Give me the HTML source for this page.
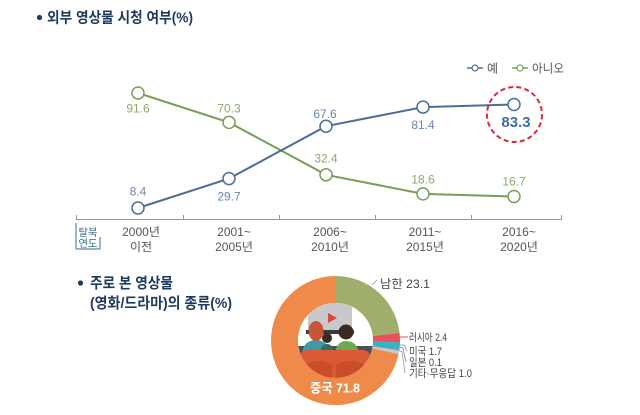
<!DOCTYPE html>
<html><head><meta charset="utf-8">
<style>
html,body{margin:0;padding:0;background:#fff;}
svg{display:block;}
text{font-family:"Liberation Sans","Noto Sans CJK KR",sans-serif;}
</style></head>
<body>
<svg width="640" height="415" viewBox="0 0 640 415" xmlns="http://www.w3.org/2000/svg">
<rect width="640" height="415" fill="#fff"/>
<!-- Title -->
<circle cx="39.5" cy="17.5" r="2.6" fill="#1e3a5f"/>
<text x="47" y="22.5" font-size="15" font-weight="bold" fill="#1e3a5f" textLength="146" lengthAdjust="spacingAndGlyphs">외부 영상물 시청 여부(%)</text>

<!-- Legend -->
<line x1="467" y1="68" x2="483" y2="68" stroke="#4e6d94" stroke-width="1.5"/>
<circle cx="475" cy="68" r="3" fill="#fff" stroke="#4e6d94" stroke-width="1.2"/>
<text x="487" y="72.5" font-size="12" fill="#555">예</text>
<line x1="512" y1="68" x2="528" y2="68" stroke="#7a9e58" stroke-width="1.5"/>
<circle cx="520" cy="68" r="3" fill="#fff" stroke="#7a9e58" stroke-width="1.2"/>
<text x="532" y="72.5" font-size="12" fill="#555" textLength="32" lengthAdjust="spacingAndGlyphs">아니오</text>

<!-- Axis -->
<line x1="76" y1="219.5" x2="562" y2="219.5" stroke="#9a9a9a" stroke-width="1"/>
<g stroke="#9a9a9a" stroke-width="1">
<line x1="76.5" y1="215" x2="76.5" y2="220"/>
<line x1="183.5" y1="215" x2="183.5" y2="220"/>
<line x1="279.5" y1="215" x2="279.5" y2="220"/>
<line x1="375.5" y1="215" x2="375.5" y2="220"/>
<line x1="471.5" y1="215" x2="471.5" y2="220"/>
<line x1="561.5" y1="215" x2="561.5" y2="220"/>
</g>

<!-- Lines -->
<polyline points="138,93 229,122.4 326,174.8 423,193.9 514,196.5" fill="none" stroke="#7a9e58" stroke-width="2"/>
<polyline points="138,208 229,178.6 326,126.2 423,107.1 514,104.5" fill="none" stroke="#4e6d94" stroke-width="2"/>
<g fill="#fff" stroke="#7a9e58" stroke-width="1.5">
<circle cx="138" cy="93" r="6"/><circle cx="229" cy="122.4" r="6"/><circle cx="326" cy="174.8" r="6"/><circle cx="423" cy="193.9" r="6"/><circle cx="514" cy="196.5" r="6"/>
</g>
<g fill="#fff" stroke="#4e6d94" stroke-width="1.5">
<circle cx="138" cy="208" r="6"/><circle cx="229" cy="178.6" r="6"/><circle cx="326" cy="126.2" r="6"/><circle cx="423" cy="107.1" r="6"/><circle cx="514" cy="104.5" r="6"/>
</g>

<!-- Data labels -->
<g font-size="12" fill="#8aab6c" text-anchor="middle">
<text x="138" y="112.5">91.6</text>
<text x="229" y="112.5">70.3</text>
<text x="326" y="162.5">32.4</text>
<text x="423" y="183.5">18.6</text>
<text x="514" y="185.5">16.7</text>
</g>
<g font-size="12" fill="#6a86ad" text-anchor="middle">
<text x="138" y="195.5">8.4</text>
<text x="229" y="200.5">29.7</text>
<text x="325" y="118">67.6</text>
<text x="423" y="129">81.4</text>
</g>
<text x="516" y="127" font-size="15" font-weight="bold" fill="#3f6da5" text-anchor="middle">83.3</text>
<circle cx="514.5" cy="114.5" r="27.5" fill="none" stroke="#d42b3d" stroke-width="2" stroke-dasharray="5 3.2"/>

<!-- Box -->
<g stroke="#3b6e8c" stroke-width="1" fill="none">
<line x1="76" y1="223" x2="76" y2="249"/>
<line x1="76" y1="249" x2="100" y2="249"/>
<line x1="100" y1="237" x2="100" y2="249"/>
</g>
<g font-size="10" fill="#2f6a8a" text-anchor="middle">
<text x="88" y="236" textLength="19" lengthAdjust="spacingAndGlyphs">탈북</text>
<text x="88" y="247" textLength="19" lengthAdjust="spacingAndGlyphs">연도</text>
</g>

<!-- Category labels -->
<g font-size="12" fill="#555" text-anchor="middle">
<text x="141" y="236">2000년</text><text x="141" y="251">이전</text>
<text x="234" y="236">2001~</text><text x="234" y="251">2005년</text>
<text x="330" y="236">2006~</text><text x="330" y="251">2010년</text>
<text x="425" y="236">2011~</text><text x="425" y="251">2015년</text>
<text x="519" y="236">2016~</text><text x="519" y="251">2020년</text>
</g>

<!-- Second title -->
<circle cx="80.5" cy="283" r="2.6" fill="#1e3a5f"/>
<text x="90" y="288" font-size="15" font-weight="bold" fill="#1e3a5f" textLength="83" lengthAdjust="spacingAndGlyphs">주로 본 영상물</text>
<text x="90" y="308" font-size="15" font-weight="bold" fill="#1e3a5f" textLength="142" lengthAdjust="spacingAndGlyphs">(영화/드라마)의 종류(%)</text>

<!-- Donut -->
<g transform="rotate(-90 335.5 340.5)" fill="none" stroke-width="27">
<circle cx="335.5" cy="340.5" r="51" pathLength="100" stroke="#f08a4b" stroke-dasharray="71.7 28.3" stroke-dashoffset="-28.3"/>
<circle cx="335.5" cy="340.5" r="51" pathLength="100" stroke="#9fae6a" stroke-dasharray="23.1 76.9" stroke-dashoffset="0"/>
<circle cx="335.5" cy="340.5" r="51" pathLength="100" stroke="#e8505b" stroke-dasharray="2.4 97.6" stroke-dashoffset="-23.1"/>
<circle cx="335.5" cy="340.5" r="51" pathLength="100" stroke="#33b3c4" stroke-dasharray="1.7 98.3" stroke-dashoffset="-25.5"/>
<circle cx="335.5" cy="340.5" r="51" pathLength="100" stroke="#6b7a8c" stroke-dasharray="0.3 99.7" stroke-dashoffset="-27.2"/>
<circle cx="335.5" cy="340.5" r="51" pathLength="100" stroke="#c2c8d0" stroke-dasharray="1.0 99" stroke-dashoffset="-27.4"/>
</g>
<!-- Illustration -->
<defs><clipPath id="hole"><circle cx="335.5" cy="340.5" r="37.5"/></clipPath></defs>
<g clip-path="url(#hole)">
<rect x="295" y="300" width="82" height="82" fill="#fff"/>
<rect x="308" y="303" width="44" height="28" fill="#c9c9cd"/>
<rect x="306" y="330" width="48" height="4" fill="#3a3a3a"/>
<polygon points="328,313 328,323 337,318" fill="#e0453a"/>
<rect x="295" y="346" width="82" height="14" fill="#4a4f55"/>
<path d="M302 353 Q304 340 316 340 Q328 340 329 353 Z" fill="#3e9aa8"/>
<ellipse cx="316" cy="331" rx="7.5" ry="10" fill="#c8553a"/>
<path d="M335 353 Q337 341 346 341 Q357 341 359 353 Z" fill="#6aaa55"/>
<circle cx="346" cy="332" r="7.5" fill="#3b2a20"/>
<path d="M320 353 Q321 344 327 344 Q333 344 334 353 Z" fill="#2f6f6a"/>
<circle cx="327" cy="338" r="5" fill="#3a2a22"/>
<path d="M300 357 Q300 350 308 350 L362 350 Q370 350 370 357 L370 382 L300 382 Z" fill="#d95a33"/>
<path d="M305 365 Q318 357 332 365 L332 382 L305 382 Z" fill="#c94d2b"/>
<path d="M336 365 Q350 357 365 365 L365 382 L336 382 Z" fill="#c94d2b"/>
</g>

<!-- Pie labels -->
<line x1="372" y1="285" x2="377" y2="280" stroke="#999" stroke-width="0.8"/>
<text x="380" y="288" font-size="12" fill="#444" textLength="50" lengthAdjust="spacingAndGlyphs">남한 23.1</text>
<line x1="399" y1="337" x2="408" y2="337" stroke="#e8505b" stroke-width="1"/>
<polyline points="399,345 404,345 407,351" fill="none" stroke="#6a86ad" stroke-width="0.8"/>
<polyline points="399,347 403,348 406,362" fill="none" stroke="#6a86ad" stroke-width="0.8"/>
<polyline points="398,350 402,352 405,373" fill="none" stroke="#8a9aa8" stroke-width="0.8"/>
<g font-size="11" fill="#444">
<text x="409" y="341" textLength="38" lengthAdjust="spacingAndGlyphs">러시아 2.4</text>
<text x="409" y="355" textLength="33" lengthAdjust="spacingAndGlyphs">미국 1.7</text>
<text x="409" y="366" textLength="33" lengthAdjust="spacingAndGlyphs">일본 0.1</text>
<text x="409" y="377" textLength="63" lengthAdjust="spacingAndGlyphs">기타·무응답 1.0</text>
</g>
<text x="335" y="392.5" font-size="13" font-weight="bold" fill="#fff" text-anchor="middle" textLength="50" lengthAdjust="spacingAndGlyphs">중국 71.8</text>
</svg>
</body></html>
